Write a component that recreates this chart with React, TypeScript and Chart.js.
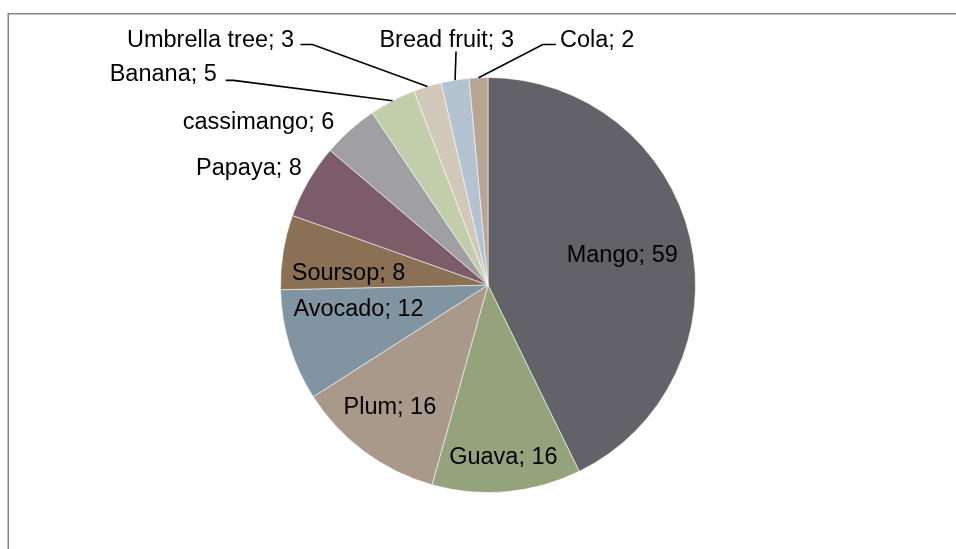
import React, { useEffect, useRef } from "react";
import { Chart, registerables } from "chart.js";

Chart.register(...registerables);

const categories = [
  "Mango",
  "Guava",
  "Plum",
  "Avocado",
  "Soursop",
  "Papaya",
  "cassimango",
  "Banana",
  "Umbrella tree",
  "Bread fruit",
  "Cola",
];
const values = [59, 16, 16, 12, 8, 8, 6, 5, 3, 3, 2];
const colors = [
  "#636268",
  "#94a37b",
  "#a8998a",
  "#8094a1",
  "#8a7156",
  "#7c5c69",
  "#a0a0a3",
  "#c2cdac",
  "#d1c8b9",
  "#b4c3cf",
  "#b8a596",
];

// Label layout, in units of the pie radius from its centre: [text centre x, baseline y]
const labelPos: number[][] = [
  [0.647, -0.111],
  [0.074, 0.861],
  [-0.473, 0.62],
  [-0.624, 0.149],
  [-0.672, -0.024],
  [-1.152, -0.531],
  [-1.106, -0.752],
  [-1.565, -0.981],
  [-1.337, -1.147],
  [-0.199, -1.149],
  [0.526, -1.149],
];
// Leader line points (after the slice edge point), same units
const leaders: (number[][] | null)[] = [
  null,
  null,
  null,
  null,
  null,
  null,
  null,
  [
    [-1.226, -0.986],
    [-1.264, -0.986],
  ],
  [
    [-0.846, -1.159],
    [-0.904, -1.159],
  ],
  [[-0.154, -1.125]],
  [
    [0.264, -1.159],
    [0.327, -1.159],
  ],
];

const framePlugin = {
  id: "frame",
  beforeDraw(chart: any) {
    const ctx = chart.ctx;
    ctx.save();
    ctx.fillStyle = "#ffffff";
    ctx.fillRect(0, 0, chart.width, chart.height);
    ctx.strokeStyle = "#868686";
    ctx.lineWidth = 1.5;
    ctx.beginPath();
    ctx.moveTo(8.25, chart.height);
    ctx.lineTo(8.25, 13.75);
    ctx.lineTo(chart.width, 13.75);
    ctx.stroke();
    ctx.restore();
  },
};

const labelsPlugin = {
  id: "pieLabels",
  afterDatasetsDraw(chart: any) {
    const ctx = chart.ctx;
    const meta = chart.getDatasetMeta(0);
    ctx.save();
    ctx.font = '23.5px "Liberation Sans", Arial, sans-serif';
    ctx.fillStyle = "#000000";
    ctx.textAlign = "center";
    ctx.textBaseline = "alphabetic";
    meta.data.forEach((arc: any, i: number) => {
      const { x, y, startAngle, endAngle, outerRadius } = arc.getProps(
        ["x", "y", "startAngle", "endAngle", "outerRadius"],
        true
      );
      const r = outerRadius;
      const pts = leaders[i];
      if (pts) {
        const mid = (startAngle + endAngle) / 2;
        ctx.beginPath();
        ctx.moveTo(x + Math.cos(mid) * r, y + Math.sin(mid) * r);
        pts.forEach(([px, py]) => ctx.lineTo(x + px * r, y + py * r));
        ctx.strokeStyle = "#000000";
        ctx.lineWidth = 1.6;
        ctx.stroke();
      }
      const [ux, uy] = labelPos[i];
      ctx.fillText(`${categories[i]}; ${values[i]}`, x + ux * r, y + uy * r);
    });
    ctx.restore();
  },
};

export default function App() {
  const ref = useRef<HTMLCanvasElement | null>(null);
  useEffect(() => {
    if (!ref.current) return;
    const chart = new Chart(ref.current, {
      type: "pie",
      data: {
        labels: categories,
        datasets: [
          {
            data: values,
            backgroundColor: colors,
            borderColor: "rgba(255,255,255,0.55)",
            borderWidth: 1,
            hoverOffset: 0,
            offset: 0,
          },
        ],
      },
      options: {
        responsive: false,
        animation: false,
        events: [],
        layout: { padding: { left: 280, right: 260, top: 77, bottom: 56 } },
        plugins: {
          legend: { display: false },
          tooltip: { enabled: false },
          title: { display: false },
        },
      },
      plugins: [framePlugin, labelsPlugin],
    });
    return () => chart.destroy();
  }, []);
  return (
    <div style={{ position: "absolute", left: 0, top: 0, width: 956, height: 549 }}>
      <canvas ref={ref} width={956} height={549} style={{ width: 956, height: 549, display: "block" }} />
    </div>
  );
}
